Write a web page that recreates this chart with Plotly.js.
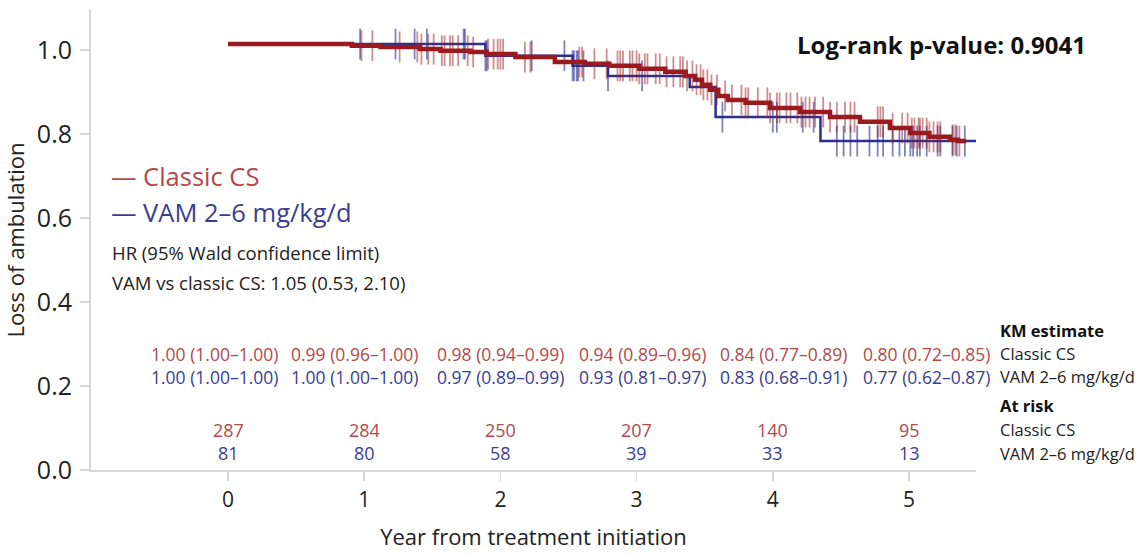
<!DOCTYPE html>
<html>
<head>
<meta charset="utf-8">
<script src="https://cdn.plot.ly/plotly-3.0.1.min.js"></script>
<style>html,body{margin:0;padding:0;background:#fff;}#chart{width:1140px;height:556px;}</style>
</head>
<body>
<div id="chart"></div>
<script>
// ---- data ----
const years = [0, 1, 2, 3, 4, 5];
const kmClassic = ['1.00 (1.00–1.00)', '0.99 (0.96–1.00)', '0.98 (0.94–0.99)', '0.94 (0.89–0.96)', '0.84 (0.77–0.89)', '0.80 (0.72–0.85)'];
const kmVam = ['1.00 (1.00–1.00)', '1.00 (1.00–1.00)', '0.97 (0.89–0.99)', '0.93 (0.81–0.97)', '0.83 (0.68–0.91)', '0.77 (0.62–0.87)'];
const riskClassic = [287, 284, 250, 207, 140, 95];
const riskVam = [81, 80, 58, 39, 33, 13];

const classicTime = [0, 0.91, 1.12, 1.41, 1.56, 1.78, 1.90, 2.11, 2.40, 2.62, 2.80, 3.02, 3.21, 3.36, 3.43, 3.48, 3.54, 3.60, 3.67, 3.80, 3.98, 4.20, 4.42, 4.64, 4.86, 5.01, 5.15, 5.30, 5.36, 5.42];
const classicSurv = [1.014, 1.010, 1.007, 1.002, 0.998, 0.995, 0.990, 0.983, 0.971, 0.967, 0.962, 0.955, 0.948, 0.938, 0.929, 0.917, 0.905, 0.890, 0.881, 0.874, 0.862, 0.852, 0.840, 0.829, 0.814, 0.802, 0.793, 0.786, 0.783, 0.783];
const vamTime = [0, 1.89, 2.53, 2.79, 3.39, 3.58, 4.35, 5.50];
const vamSurv = [1.014, 0.986, 0.962, 0.938, 0.912, 0.840, 0.783, 0.783];

const classicCensor = [0.98, 1.06, 1.26, 1.39, 1.42, 1.47, 1.51, 1.57, 1.59, 1.63, 1.65, 1.69, 1.76, 1.80, 1.91, 1.95, 1.98, 2.00, 2.02, 2.18, 2.22, 2.58, 2.60, 2.69, 2.78, 2.86, 2.88, 2.90, 2.95, 2.97, 3.00, 3.02, 3.06, 3.08, 3.14, 3.17, 3.22, 3.27, 3.32, 3.34, 3.37, 3.41, 3.44, 3.47, 3.49, 3.52, 3.55, 3.59, 3.65, 3.70, 3.77, 3.80, 3.82, 3.89, 3.96, 3.98, 4.03, 4.05, 4.10, 4.13, 4.18, 4.21, 4.24, 4.27, 4.31, 4.37, 4.42, 4.47, 4.53, 4.57, 4.60, 4.77, 4.79, 4.81, 4.88, 4.95, 4.99, 5.02, 5.04, 5.07, 5.08, 5.10, 5.13, 5.15, 5.18, 5.21, 5.23, 5.32, 5.34, 5.37];
const vamCensor = [0.97, 1.23, 1.37, 1.46, 1.73, 1.74, 1.89, 1.90, 2.23, 2.47, 2.53, 2.54, 2.56, 2.57, 2.61, 2.79, 3.04, 3.63, 4.00, 4.03, 4.22, 4.30, 4.47, 4.52, 4.57, 4.62, 4.71, 4.77, 4.81, 4.88, 4.93, 4.97, 5.01, 5.03, 5.06, 5.08, 5.13, 5.21, 5.23, 5.32, 5.35, 5.41];

const seriesNames = ['Classic CS', 'VAM 2–6 mg/kg/d'];
const hrLines = ['HR (95% Wald confidence limit)', 'VAM vs classic CS: 1.05 (0.53, 2.10)'];
const pValueText = 'Log-rank p-value: 0.9041';

// ---- styles ----
const RED = '#9a1a1f', BLUE = '#2b2f8f';
const RED_T = '#b4484b', BLUE_T = '#3b3d94';
const FONT = '"Open Sans", Lato, sans-serif';

function stepAt(ts, vs, t) {
  let v = vs[0];
  for (let i = 0; i < ts.length; i++) { if (ts[i] <= t) v = vs[i]; else break; }
  return v;
}

const traces = [
  {x: vamTime, y: vamSurv, mode: 'lines', line: {shape: 'hv', color: BLUE, width: 2.5}, hoverinfo: 'skip'},
  {x: vamCensor, y: vamCensor.map(t => stepAt(vamTime, vamSurv, t)), mode: 'markers',
   marker: {symbol: 'line-ns', size: 22, color: 'rgba(43,47,143,0.6)', line: {width: 1.8, color: 'rgba(43,47,143,0.6)'}}, hoverinfo: 'skip'},
  {x: classicTime, y: classicSurv, mode: 'lines', line: {shape: 'hv', color: RED, width: 4.5}, hoverinfo: 'skip'},
  {x: classicCensor, y: classicCensor.map(t => stepAt(classicTime, classicSurv, t)), mode: 'markers',
   marker: {symbol: 'line-ns', size: 22, color: 'rgba(158,27,32,0.5)', line: {width: 1.8, color: 'rgba(158,27,32,0.5)'}}, hoverinfo: 'skip'}
];

// positions (pixel -> data helpers)
const px2x = p => (p - 228) / 136.2;
const px2y = p => (470 - p) / 420;
const kmColX = [214, 354, 500, 642, 783, 926].map(px2x);
const labelX = (998 - 91) / 885;

const ann = [];
function addText(text, xref, x, py, color, size, anchor, bold) {
  ann.push({text: bold ? '<b>' + text + '</b>' : text, xref: xref, yref: 'y', x: x, y: px2y(py),
    xanchor: anchor, yanchor: 'middle', showarrow: false, font: {family: FONT, size: size, color: color}});
}
addText(pValueText, 'paper', (1088 - 91) / 885, 45, '#111', 24, 'right', true);
addText('— ' + seriesNames[0], 'paper', (109 - 91) / 885, 176, RED_T, 25.5, 'left');
addText('— ' + seriesNames[1], 'paper', (109 - 91) / 885, 212, BLUE_T, 25.5, 'left');
addText(hrLines[0], 'paper', (110 - 91) / 885, 253, '#222', 18.5, 'left');
addText(hrLines[1], 'paper', (110 - 91) / 885, 283, '#222', 18.5, 'left');
addText('KM estimate', 'paper', labelX, 331, '#111', 16.5, 'left', true);
addText(seriesNames[0], 'paper', labelX, 354, '#222', 16.5, 'left');
addText(seriesNames[1], 'paper', labelX, 377, '#222', 16.5, 'left');
addText('At risk', 'paper', labelX, 406, '#111', 16.5, 'left', true);
addText(seriesNames[0], 'paper', labelX, 430, '#222', 16.5, 'left');
addText(seriesNames[1], 'paper', labelX, 453, '#222', 16.5, 'left');
years.forEach((yr, i) => {
  addText(kmClassic[i], 'x', kmColX[i], 354, RED_T, 17.5, 'center');
  addText(kmVam[i], 'x', kmColX[i], 377, BLUE_T, 17.5, 'center');
  addText(String(riskClassic[i]), 'x', yr, 430, RED_T, 18, 'center');
  addText(String(riskVam[i]), 'x', yr, 453, BLUE_T, 18, 'center');
});

const layout = {
  width: 1140, height: 556,
  margin: {l: 91, r: 164, t: 10, b: 86},
  paper_bgcolor: '#fff', plot_bgcolor: '#fff',
  showlegend: false,
  font: {family: FONT, color: '#222'},
  xaxis: {
    range: [px2x(91), px2x(976)], tickvals: years, ticktext: years.map(String),
    showgrid: false, zeroline: false, showline: true, linecolor: '#d6d6d6', linewidth: 2,
    ticks: 'outside', ticklen: 9, tickcolor: '#d6d6d6', tickwidth: 1.5,
    tickfont: {family: FONT, size: 21, color: '#222'}, ticklabelstandoff: 1,
    title: {text: 'Year from treatment initiation', font: {family: FONT, size: 22, color: '#222'}, standoff: 17}
  },
  yaxis: {
    range: [0, 1.095], tickvals: [0, 0.2, 0.4, 0.6, 0.8, 1.0], ticktext: ['0.0', '0.2', '0.4', '0.6', '0.8', '1.0'],
    showgrid: false, zeroline: false, showline: true, linecolor: '#d6d6d6', linewidth: 2,
    ticks: 'outside', ticklen: 9, tickcolor: '#d6d6d6', tickwidth: 1.5,
    tickfont: {family: FONT, size: 25, color: '#222'}, ticklabelstandoff: 3,
    title: {text: 'Loss of ambulation', font: {family: FONT, size: 22, color: '#222'}, standoff: 6}
  },
  annotations: ann
};

Plotly.newPlot('chart', traces, layout, {staticPlot: true, displayModeBar: false});
</script>
</body>
</html>
